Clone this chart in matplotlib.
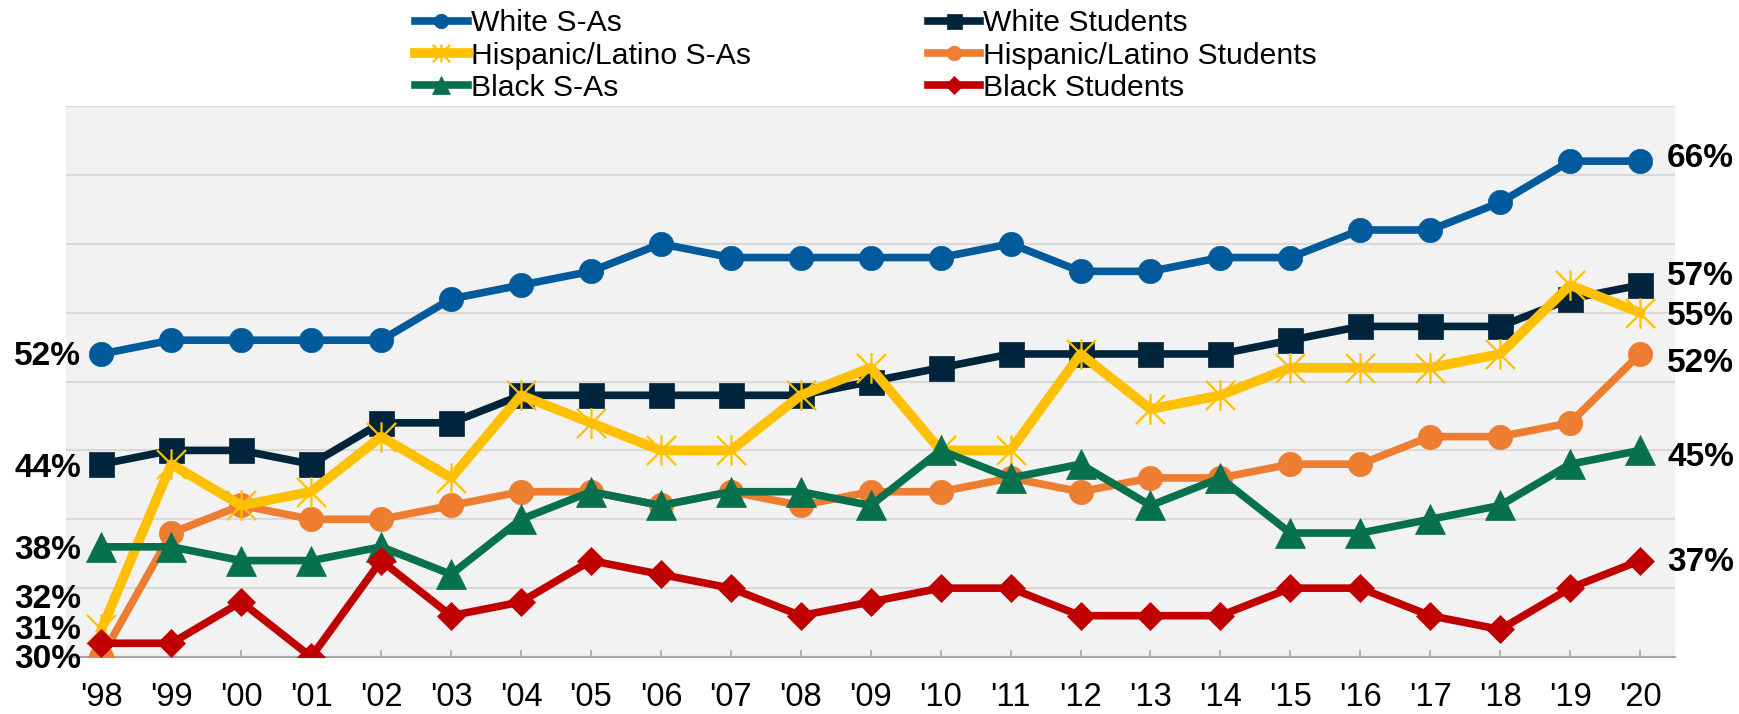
import numpy as np
import matplotlib
matplotlib.use("Agg")
import matplotlib.pyplot as plt
from matplotlib.path import Path

plt.rcParams['font.family'] = ['Liberation Sans', 'DejaVu Sans']

# Data (percent)
years = ["'98", "'99", "'00", "'01", "'02", "'03", "'04", "'05", "'06", "'07", "'08",
         "'09", "'10", "'11", "'12", "'13", "'14", "'15", "'16", "'17", "'18", "'19", "'20"]

white_sas = [52, 53, 53, 53, 53, 56, 57, 58, 60, 59, 59, 59, 59, 60, 58, 58, 59, 59, 61, 61, 63, 66, 66]
white_students = [44, 45, 45, 44, 47, 47, 49, 49, 49, 49, 49, 50, 51, 52, 52, 52, 52, 53, 54, 54, 54, 56, 57]
hisp_sas = [32, 44, 41, 42, 46, 43, 49, 47, 45, 45, 49, 51, 45, 45, 52, 48, 49, 51, 51, 51, 52, 57, 55]
hisp_students = [30, 39, 41, 40, 40, 41, 42, 42, 41, 42, 41, 42, 42, 43, 42, 43, 43, 44, 44, 46, 46, 47, 52]
black_sas = [38, 38, 37, 37, 38, 36, 40, 42, 41, 42, 42, 41, 45, 43, 44, 41, 43, 39, 39, 40, 41, 44, 45]
black_students = [31, 31, 34, 30, 37, 33, 34, 37, 36, 35, 33, 34, 35, 35, 33, 33, 33, 35, 35, 33, 32, 35, 37]

# asterisk marker (X plus vertical bar)
star = Path([(-1, -1), (1, 1), (-1, 1), (1, -1), (0, -1.05), (0, 1.05)],
            [Path.MOVETO, Path.LINETO] * 3)

# name, values, colour, marker, marker size, line width, zorder
series = [
    ("White S-As", white_sas, "#005A9C", "o", 17.5, 5.5, 4),
    ("Hispanic/Latino S-As", hisp_sas, "#FFC000", star, 22, 7, 5),
    ("Black S-As", black_sas, "#07704D", "^", 22, 5.5, 6),
    ("White Students", white_students, "#00243B", "s", 18, 5.5, 2),
    ("Hispanic/Latino Students", hisp_students, "#ED7D31", "o", 17.5, 5.5, 3),
    ("Black Students", black_students, "#C00000", "D", 14.5, 5.5, 7),
]

# label offsets (pixels) for start / end values
left_off = {"White S-As": -3, "Hispanic/Latino S-As": 30, "Black S-As": -4,
            "White Students": -4, "Hispanic/Latino Students": -2, "Black Students": 13}
right_off = {"White S-As": 3, "Hispanic/Latino S-As": -4, "Black S-As": -7,
             "White Students": 9, "Hispanic/Latino Students": -10, "Black Students": -2}

fig = plt.figure(figsize=(17.39, 7.14), dpi=100)
ax = fig.add_axes([0.0382, 0.0798, 0.925, 0.7717])
ax.set_facecolor("#F2F2F2")

x = np.arange(len(years))
for name, vals, col, mk, ms, lw, z in series:
    if mk is star:
        ax.plot(x, vals, color=col, lw=lw, marker=mk, ms=ms, mec=col, mfc="none",
                mew=1.6, label=name, zorder=z)
    else:
        ax.plot(x, vals, color=col, lw=lw, marker=mk, ms=ms, mec=col, mfc=col,
                mew=0.5, label=name, zorder=z)
    ax.annotate(f"{vals[0]}%", xy=(0, vals[0]), xytext=(-20, left_off[name]),
                textcoords="offset pixels", ha="right", va="center",
                fontsize=24, fontweight="bold", annotation_clip=False)
    ax.annotate(f"{vals[-1]}%", xy=(x[-1], vals[-1]), xytext=(27, right_off[name]),
                textcoords="offset pixels", ha="left", va="center",
                fontsize=24, fontweight="bold", annotation_clip=False)

ax.set_xlim(-0.5, 22.5)
ax.set_ylim(30, 70)
ax.set_yticks(range(30, 71, 5))
ax.tick_params(axis="y", left=False, labelleft=False)
ax.yaxis.grid(True, color="#D9D9D9", lw=1.5)
ax.set_axisbelow(True)
ax.set_xticks(x)
ax.set_xticklabels(years, fontsize=23.5)
ax.tick_params(axis="x", direction="in", length=5, width=1.2, color="#A6A6A6", pad=18)
for s in ["left", "right", "top"]:
    ax.spines[s].set_visible(False)
ax.spines["bottom"].set_color("#A6A6A6")
ax.spines["bottom"].set_linewidth(1.5)
ax.spines["bottom"].set_zorder(1)

leg = fig.legend(loc="upper left", bbox_to_anchor=(0.230, 1.008), ncol=2, frameon=False,
                 fontsize=21.7, markerscale=0.6, handlelength=1.75, handletextpad=0.1,
                 columnspacing=5.87, labelspacing=0.14, borderpad=0.0)

plt.savefig("out.png", dpi=100)
